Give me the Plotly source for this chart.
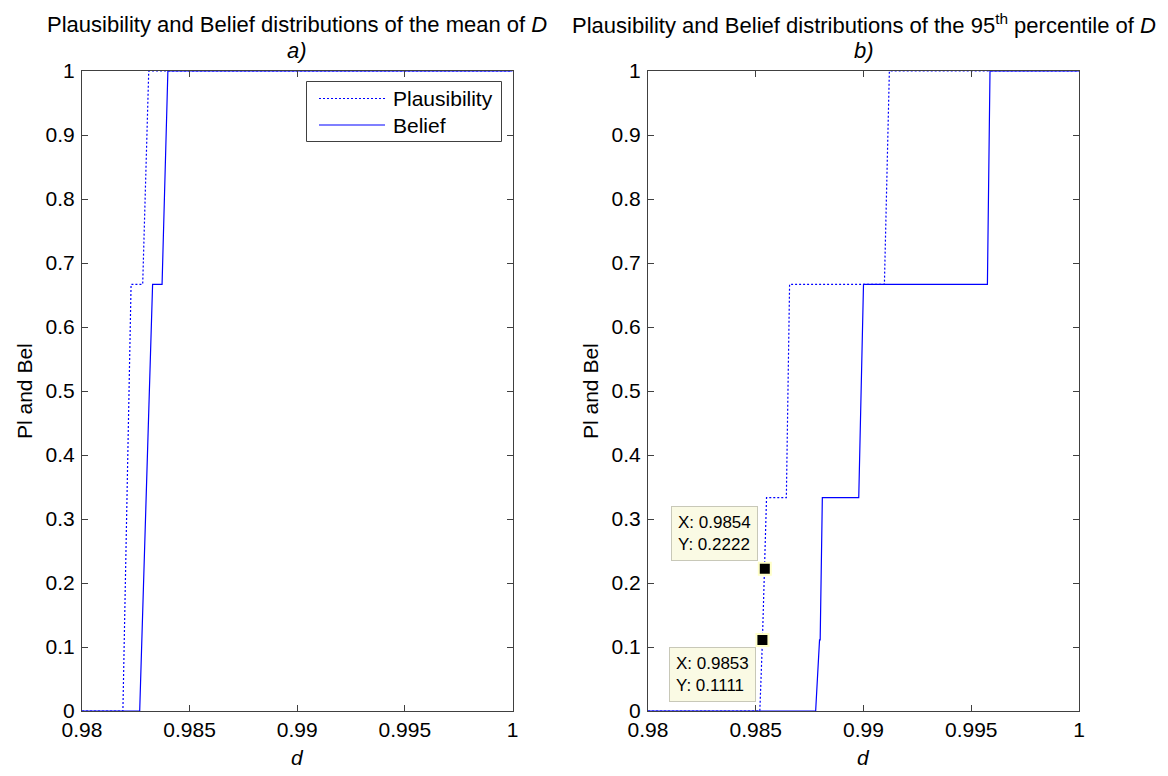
import plotly.graph_objects as go

# ---------------- data ----------------
# a) mean of D
mean_pl_x = [0.98, 0.98190, 0.98228, 0.98282, 0.98310, 1.0]
mean_pl_y = [0.0, 0.0, 0.6667, 0.6667, 1.0, 1.0]
mean_bel_x = [0.98, 0.98268, 0.98328, 0.98372, 0.98399, 1.0]
mean_bel_y = [0.0, 0.0, 0.6667, 0.6667, 1.0, 1.0]

# b) 95th percentile of D
p95_pl_x = [0.98, 0.98519, 0.98531, 0.98542, 0.98550, 0.98642, 0.98657, 0.99097, 0.99120, 1.0]
p95_pl_y = [0.0, 0.0, 0.1111, 0.2222, 0.3333, 0.3333, 0.6667, 0.6667, 1.0, 1.0]
p95_bel_x = [0.98, 0.98778, 0.98796, 0.98799, 0.98809, 0.98978, 0.99000, 0.99575, 0.99587, 1.0]
p95_bel_y = [0.0, 0.0, 0.1111, 0.1111, 0.3333, 0.3333, 0.6667, 0.6667, 1.0, 1.0]

# data tips on panel b)
tip_x = [0.98531, 0.98542]
tip_y = [0.1111, 0.2222]

# ticks
x_tickvals = [0.98, 0.985, 0.99, 0.995, 1.0]
x_ticktext = ["0.98", "0.985", "0.99", "0.995", "1"]
y_tickvals = [0.0, 0.1, 0.2, 0.3, 0.4, 0.5, 0.6, 0.7, 0.8, 0.9, 1.0]
y_ticktext = ["0", "0.1", "0.2", "0.3", "0.4", "0.5", "0.6", "0.7", "0.8", "0.9", "1"]

series_names = ["Plausibility", "Belief"]

# ---------------- layout helpers ----------------
OFF = 8                      # default page body margin of the html page
W, H = 1168 - OFF, 776 - OFF
FONT = "Liberation Sans, Arial, Helvetica, sans-serif"
FS = 21
TFS = 22
BLUE = "#0000ff"
AXC = "#404040"


def px(x):
    return (x - OFF) / W


def py(y):
    return 1 - (y - OFF) / H


axL = (82, 512.5)
axR = (648, 1079)
axTop, axBot = 71, 711

fig = go.Figure()

dotted = dict(color=BLUE, width=1.2, dash="2px,2px")
solid = dict(color=BLUE, width=1.2)

fig.add_trace(go.Scatter(x=mean_pl_x, y=mean_pl_y, mode="lines", line=dotted,
                         name=series_names[0], showlegend=False, xaxis="x", yaxis="y"))
fig.add_trace(go.Scatter(x=mean_bel_x, y=mean_bel_y, mode="lines", line=solid,
                         name=series_names[1], showlegend=False, xaxis="x", yaxis="y"))
fig.add_trace(go.Scatter(x=p95_pl_x, y=p95_pl_y, mode="lines", line=dotted,
                         name=series_names[0], showlegend=False, xaxis="x2", yaxis="y2"))
fig.add_trace(go.Scatter(x=p95_bel_x, y=p95_bel_y, mode="lines", line=solid,
                         name=series_names[1], showlegend=False, xaxis="x2", yaxis="y2"))
fig.add_trace(go.Scatter(x=tip_x, y=tip_y, mode="markers",
                         marker=dict(symbol="square", size=12, color="black",
                                     line=dict(color="#ffffc8", width=2)),
                         showlegend=False, xaxis="x2", yaxis="y2", cliponaxis=False))

xcommon = dict(range=[0.98, 1.0], tickvals=x_tickvals, ticktext=x_ticktext,
               ticks="inside", ticklen=6, tickcolor=AXC, showline=True, linecolor=AXC,
               linewidth=1, mirror="ticks", showgrid=False, zeroline=False,
               automargin=False,
               tickfont=dict(family=FONT, size=FS, color="black"))
ycommon = dict(range=[0.0, 1.0], tickvals=y_tickvals, ticktext=y_ticktext,
               ticks="inside", ticklen=6, tickcolor=AXC, showline=True, linecolor=AXC,
               linewidth=1, mirror="ticks", showgrid=False, zeroline=False,
               automargin=False, ticklabelstandoff=2,
               tickfont=dict(family=FONT, size=FS, color="black"),
               domain=[py(axBot), py(axTop)])

fig.update_layout(
    width=W, height=H, autosize=False,
    margin=dict(l=0, r=0, t=0, b=0, pad=0),
    paper_bgcolor="white", plot_bgcolor="white",
    font=dict(family=FONT, size=FS, color="black"),
    showlegend=False,
    xaxis={**xcommon, "domain": [px(axL[0]), px(axL[1])], "anchor": "y"},
    yaxis={**ycommon, "anchor": "x"},
    xaxis2={**xcommon, "domain": [px(axR[0]), px(axR[1])], "anchor": "y2"},
    yaxis2={**ycommon, "anchor": "x2"},
)

ann = []
# titles
titles = [
    ("Plausibility and Belief distributions of the mean of <i>D</i>", "<i>a)</i>", axL),
    ("Plausibility and Belief distributions of the 95<sup>th</sup> percentile of <i>D</i>", "<i>b)</i>", axR),
]
for t1, t2, ax in titles:
    cx = (ax[0] + ax[1]) / 2
    ann.append(dict(text=t1, x=px(cx), y=py(24), xref="paper", yref="paper",
                    xanchor="center", yanchor="middle", showarrow=False,
                    font=dict(family=FONT, size=TFS, color="black")))
    ann.append(dict(text=t2, x=px(cx), y=py(50), xref="paper", yref="paper",
                    xanchor="center", yanchor="middle", showarrow=False,
                    font=dict(family=FONT, size=TFS, color="black")))
    # x label
    ann.append(dict(text="<i>d</i>", x=px(cx), y=py(757), xref="paper", yref="paper",
                    xanchor="center", yanchor="middle", showarrow=False,
                    font=dict(family=FONT, size=FS, color="black")))
    # y label
    ann.append(dict(text="Pl and Bel", x=px(ax[0] - 58), y=py((axTop + axBot) / 2),
                    xref="paper", yref="paper", xanchor="center", yanchor="middle",
                    textangle=-90, showarrow=False,
                    font=dict(family=FONT, size=FS, color="black")))

# data tips
tip_cfg = [("top", -6, -7), ("bottom", -7, 8)]
for (xv, yv), (yanc, xs, ys) in zip(zip(tip_x, tip_y), tip_cfg):
    ann.append(dict(text=f"X: {xv:.4f}<br>Y: {yv:.4f}", x=xv, y=yv, xref="x2", yref="y2",
                    xanchor="right", yanchor=yanc, xshift=xs, yshift=ys, showarrow=False,
                    align="left", bgcolor="#fafae4", bordercolor="#c8c8b8", borderwidth=1,
                    borderpad=6, font=dict(family=FONT, size=17, color="black")))

# legend (panel a)
lg_l, lg_r, lg_t, lg_b = 306.5, 501.5, 81.5, 141.5
shapes = [dict(type="rect", xref="paper", yref="paper", x0=px(lg_l), x1=px(lg_r),
               y0=py(lg_b), y1=py(lg_t), line=dict(color=AXC, width=1),
               fillcolor="white", layer="above")]
rows = [(98.5, dotted, series_names[0]), (125, solid, series_names[1])]
for yy, ln, nm in rows:
    shapes.append(dict(type="line", xref="paper", yref="paper", x0=px(319), x1=px(385),
                       y0=py(yy), y1=py(yy), line=ln, layer="above"))
    ann.append(dict(text=nm, x=px(391), y=py(yy), xref="paper", yref="paper",
                    xanchor="left", yanchor="middle", showarrow=False,
                    font=dict(family=FONT, size=FS, color="black")))

fig.update_layout(annotations=ann, shapes=shapes)
fig.write_html("out.html")
